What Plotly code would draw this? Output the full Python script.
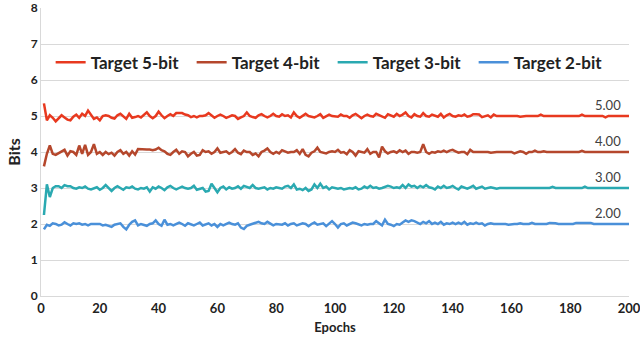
import plotly.graph_objects as go

# ── Data ────────────────────────────────────────────────────
epochs = list(range(1, 201))

bits_5 = [
    5.35, 4.88, 5.02, 4.95, 4.85, 4.93, 5.02, 4.96, 4.90, 4.88, 4.98, 5.04, 4.95, 5.06, 5.00, 5.15, 5.05, 4.92, 4.96, 4.88,
    5.00, 5.02, 5.00, 4.95, 4.93, 5.02, 5.06, 4.98, 4.92, 5.06, 4.95, 4.97, 5.00, 4.96, 5.02, 5.10, 5.00, 4.94, 5.00, 5.12,
    5.02, 4.94, 5.00, 5.05, 5.00, 5.08, 5.08, 5.08, 5.04, 5.02, 4.97, 5.00, 4.96, 5.00, 5.00, 5.02, 5.08, 5.02, 4.95, 5.00,
    5.04, 5.00, 4.95, 4.98, 5.02, 5.00, 4.92, 4.96, 5.00, 5.10, 5.00, 4.97, 4.95, 5.02, 5.05, 5.00, 4.96, 5.00, 5.06, 5.00,
    4.98, 5.05, 5.00, 5.02, 4.96, 5.10, 5.00, 4.95, 5.00, 5.06, 5.00, 4.97, 4.96, 5.00, 5.05, 4.95, 5.00, 5.04, 5.00, 5.00,
    4.98, 5.04, 5.00, 5.00, 4.95, 5.02, 5.06, 5.00, 4.94, 5.00, 5.04, 5.00, 4.98, 5.06, 5.02, 5.00, 4.95, 5.05, 5.02, 4.98,
    5.06, 5.00, 5.04, 5.10, 5.00, 4.96, 5.05, 5.00, 4.98, 5.08, 5.00, 4.98, 5.04, 5.00, 4.98, 5.06, 4.96, 5.02, 5.06, 5.00,
    4.98, 5.02, 5.00, 5.04, 4.98, 5.00, 5.05, 5.05, 5.04, 4.97, 5.00, 5.02, 4.96, 5.04, 5.00, 5.00, 5.02, 5.00, 5.00, 5.00,
    5.00, 5.00, 4.98, 5.00, 5.00, 5.00, 5.00, 5.00, 5.00, 5.04, 5.00, 5.00, 5.00, 5.00, 5.00, 5.00, 5.00, 5.00, 5.00, 5.00,
    5.00, 5.00, 5.00, 5.04, 5.00, 5.00, 5.00, 5.00, 5.00, 5.00, 5.00, 4.96, 5.00, 5.00, 5.00, 5.00, 5.00, 5.00, 5.00, 5.00,
]

bits_4 = [
    3.60, 3.95, 4.18, 3.95, 3.92, 3.96, 4.00, 4.06, 3.90, 4.02, 4.00, 3.92, 4.18, 3.95, 4.20, 3.92, 4.00, 4.22, 3.95, 4.00,
    3.92, 4.00, 3.94, 3.98, 3.90, 4.00, 4.05, 3.95, 4.00, 3.90, 4.02, 3.93, 4.08, 4.07, 4.07, 4.07, 4.07, 4.05, 4.07, 4.12,
    4.05, 4.02, 3.95, 3.92, 4.00, 4.06, 3.95, 4.02, 4.00, 3.88, 3.95, 4.00, 3.90, 3.92, 4.05, 4.00, 4.02, 3.95, 4.00, 4.10,
    3.98, 4.00, 4.02, 3.95, 4.00, 4.08, 3.98, 3.94, 4.04, 4.00, 4.00, 3.92, 3.96, 3.88, 4.00, 4.04, 4.10, 4.00, 3.95, 4.00,
    3.96, 4.05, 4.02, 3.98, 4.00, 4.00, 4.05, 3.95, 4.08, 3.92, 3.88, 3.98, 4.02, 4.12, 4.00, 3.98, 3.96, 4.00, 4.02, 4.00,
    4.06, 3.98, 4.00, 3.94, 4.05, 4.00, 3.90, 4.02, 4.00, 3.98, 4.08, 3.95, 4.00, 4.00, 3.85, 4.15, 4.02, 3.96, 4.00, 4.02,
    3.98, 4.05, 4.00, 4.04, 3.95, 4.00, 4.00, 3.98, 4.00, 4.22, 4.00, 3.95, 4.00, 3.98, 4.02, 4.00, 4.04, 4.00, 4.04, 4.06,
    4.02, 3.98, 4.00, 4.00, 3.94, 4.06, 4.00, 4.00, 4.02, 4.00, 4.00, 4.00, 3.98, 4.00, 4.00, 4.00, 4.00, 4.00, 4.00, 4.00,
    3.96, 4.00, 4.02, 4.00, 3.95, 4.00, 4.00, 4.04, 4.00, 4.00, 4.02, 4.00, 4.00, 3.98, 4.00, 4.00, 4.00, 4.00, 4.00, 4.00,
    4.00, 4.00, 4.00, 4.03, 4.00, 4.00, 4.00, 4.00, 4.00, 4.00, 4.00, 4.00, 4.00, 4.00, 4.00, 4.00, 4.00, 4.00, 4.00, 4.00,
]

bits_3 = [
    2.25, 3.10, 2.75, 3.00, 3.05, 3.05, 3.00, 3.08, 3.05, 3.05, 3.00, 2.98, 3.02, 3.00, 3.04, 2.98, 2.96, 3.00, 3.02, 2.95,
    3.00, 3.08, 3.00, 2.92, 3.00, 3.05, 3.00, 2.95, 3.02, 3.00, 3.04, 2.98, 2.96, 3.00, 2.98, 3.02, 2.90, 3.02, 2.98, 3.04,
    3.00, 2.94, 3.02, 3.06, 3.00, 2.96, 3.00, 3.04, 3.00, 2.98, 3.00, 3.06, 2.95, 2.98, 3.00, 2.90, 2.92, 3.12, 3.00, 2.88,
    3.00, 3.04, 2.96, 3.02, 2.98, 3.00, 3.05, 2.98, 3.06, 3.02, 3.00, 3.08, 3.00, 2.98, 3.00, 3.02, 2.96, 3.00, 2.98, 3.02,
    3.00, 2.98, 3.04, 3.06, 3.00, 3.10, 2.96, 2.98, 2.94, 3.00, 2.92, 2.96, 3.10, 3.00, 3.12, 3.00, 3.04, 2.96, 3.02, 3.00,
    2.98, 3.00, 2.96, 2.98, 3.00, 2.98, 3.02, 2.96, 2.98, 3.04, 3.00, 3.06, 3.00, 3.02, 2.98, 3.00, 3.02, 3.06, 3.04, 3.00,
    3.02, 3.00, 3.08, 3.00, 3.10, 3.04, 3.06, 3.00, 3.06, 3.02, 3.08, 3.02, 3.00, 2.96, 3.04, 3.00, 3.06, 3.00, 3.02, 3.06,
    3.00, 2.96, 3.04, 3.00, 2.98, 3.02, 3.06, 2.98, 3.00, 3.04, 2.98, 3.00, 3.02, 3.00, 2.98, 3.00, 3.00, 3.00, 3.00, 3.00,
    3.00, 3.00, 3.00, 3.02, 3.00, 3.00, 3.00, 3.00, 3.00, 3.00, 3.00, 3.00, 3.00, 3.03, 3.00, 3.00, 3.00, 3.00, 3.00, 3.00,
    3.00, 3.00, 3.02, 3.00, 3.04, 3.00, 3.00, 3.00, 3.00, 3.00, 3.00, 3.00, 3.00, 3.00, 3.00, 3.00, 3.00, 3.00, 3.00, 3.00,
]

bits_2 = [
    1.85, 1.98, 1.95, 2.02, 2.00, 1.96, 1.98, 2.05, 2.00, 1.96, 2.02, 2.00, 2.02, 1.98, 2.00, 1.96, 2.00, 2.00, 1.98, 2.00,
    1.96, 1.98, 1.95, 1.92, 1.98, 2.00, 2.02, 1.92, 1.85, 1.98, 2.06, 2.10, 1.96, 2.00, 1.98, 1.95, 2.00, 2.02, 2.10, 2.00,
    1.95, 2.12, 1.98, 2.00, 1.96, 2.00, 2.04, 2.00, 1.95, 2.02, 2.00, 1.96, 2.00, 2.04, 1.96, 2.00, 2.02, 1.96, 2.00, 1.92,
    2.00, 1.96, 2.00, 2.04, 2.00, 1.98, 2.02, 1.90, 1.86, 1.95, 1.98, 2.00, 2.04, 2.06, 2.02, 2.00, 2.06, 2.00, 1.96, 2.00,
    2.00, 1.98, 2.02, 1.96, 2.00, 2.02, 1.96, 2.00, 2.02, 2.00, 1.94, 2.00, 2.04, 1.98, 2.00, 2.02, 1.94, 2.00, 2.08, 2.00,
    1.90, 2.00, 2.02, 1.96, 2.00, 2.04, 2.02, 2.00, 1.96, 2.00, 1.98, 2.00, 2.00, 2.08, 2.02, 1.96, 2.12, 2.00, 1.98, 1.94,
    2.00, 1.98, 2.04, 2.10, 2.06, 2.10, 2.08, 2.04, 2.00, 2.06, 2.02, 2.08, 2.00, 2.04, 2.00, 2.06, 1.98, 2.02, 2.00, 2.04,
    2.00, 2.04, 2.00, 2.06, 1.98, 2.02, 2.00, 2.04, 2.00, 2.02, 1.96, 2.00, 2.02, 2.00, 2.00, 2.02, 2.00, 2.00, 1.98, 2.00,
    2.00, 2.00, 2.02, 2.00, 2.00, 2.00, 2.03, 2.00, 2.00, 2.00, 2.00, 2.00, 2.03, 2.03, 2.02, 2.00, 2.00, 2.00, 2.00, 2.00,
    2.00, 2.03, 2.03, 2.03, 2.03, 2.03, 2.03, 2.00, 2.00, 2.00, 2.00, 2.00, 2.00, 2.00, 2.00, 2.00, 2.00, 2.00, 2.00, 2.00,
]

series_names = ["Target 5-bit", "Target 4-bit", "Target 3-bit", "Target 2-bit"]
series_vals = [bits_5, bits_4, bits_3, bits_2]
end_labels = ["5.00", "4.00", "3.00", "2.00"]
COLORS = ["#E8391F", "#B5472C", "#2AA9B1", "#4A90D9"]

FONT = "Lato"

fig = go.Figure()

for name, vals, color in zip(series_names, series_vals, COLORS):
    fig.add_trace(go.Scatter(
        x=epochs, y=vals, mode="lines", name=name,
        line=dict(color=color, width=2.5),
    ))

# 最終値ラベル
for vals, lab in zip(series_vals, end_labels):
    fig.add_annotation(
        x=200, y=vals[-1], text=lab, showarrow=False,
        xanchor="right", yanchor="bottom", xshift=-6, yshift=1,
        font=dict(family=FONT, size=13, color="#404040"),
    )

fig.update_layout(
    width=640, height=338,
    paper_bgcolor="white", plot_bgcolor="white",
    margin=dict(l=41, r=11, t=8, b=42),
    showlegend=True,
    legend=dict(
        orientation="h", x=0.496, xanchor="center", y=0.81, yanchor="middle",
        font=dict(family=FONT, size=17, color="#222222", weight="bold"),
        bgcolor="rgba(0,0,0,0)", itemwidth=30, entrywidth=96,
    ),
    font=dict(family=FONT, color="#222222"),
)

fig.update_xaxes(
    range=[0, 200], tickvals=[0, 20, 40, 60, 80, 100, 120, 140, 160, 180, 200],
    showgrid=False, zeroline=False, showline=True, linecolor="#D9D9D9", linewidth=1,
    ticks="", ticklabeloverflow="allow", automargin=False,
    tickfont=dict(family=FONT, size=13, color="#222222", weight="bold"),
    title=dict(text="Epochs", font=dict(family=FONT, size=13, color="#222222", weight="bold"), standoff=8),
)
fig.update_yaxes(
    range=[0, 8], dtick=1,
    showgrid=True, gridcolor="#D9D9D9", gridwidth=1, zeroline=False,
    showline=True, linecolor="#D9D9D9", linewidth=1,
    ticks="", ticklabeloverflow="allow", automargin=False,
    tickfont=dict(family=FONT, size=12, color="#222222", weight="bold"),
    title=dict(text="Bits", font=dict(family=FONT, size=16, color="#222222", weight="bold"), standoff=6),
)

# ページ余白を消して 640x338 にぴったり合わせる
fig.write_html(
    "out.html",
    config={"displayModeBar": False},
    post_script="document.body.style.margin='0';",
)
